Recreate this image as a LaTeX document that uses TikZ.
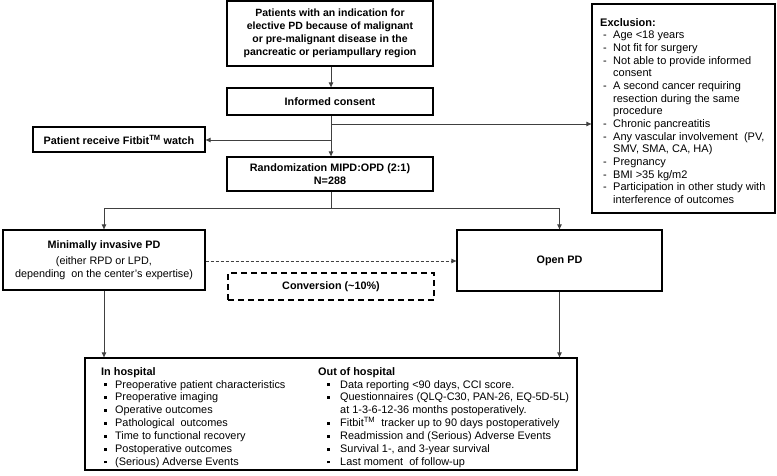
\documentclass[tikz,border=0pt]{standalone}
\usepackage{fontspec}
\setmainfont{Liberation Sans}
\usetikzlibrary{arrows.meta}
\newcommand\sqbul{\hspace*{3pt}\makebox[11pt][l]{\rule[2pt]{2.6pt}{2.6pt}}}
\newcommand\sqbulo{\hspace*{9pt}\makebox[13pt][l]{\rule[2pt]{2.6pt}{2.6pt}}}
\newcommand\exdash{\hspace*{3pt}\makebox[10pt][l]{-}}
\newcommand\exind{\hspace*{13pt}}
\newcommand\blind{\hspace*{22pt}}
\begin{document}
\begin{tikzpicture}[x=1pt,y=-1pt,
  box/.style={draw=black,line width=1.3pt,inner sep=0pt,align=center,font=\fontsize{10.8}{13}\selectfont\bfseries},
  txt/.style={inner sep=0pt,align=left,anchor=north west,font=\fontsize{11}{12.66}\selectfont},
  conn/.style={draw=black!75,line width=0.9pt},
  arr/.style={conn,-{Triangle[length=5pt,width=4.5pt]}},
]
\useasboundingbox (0,0) rectangle (777,476);
% boxes
\node[box,minimum width=206pt,minimum height=65pt,font=\fontsize{10.5}{12.8}\selectfont\bfseries] (top) at (330,33.5)
  {Patients with an indication for\\elective PD because of malignant\\or pre-malignant disease in the\\pancreatic or periampullary region};
\node[box,minimum width=206pt,minimum height=27pt] (consent) at (330,101.5) {Informed consent};
\node[box,minimum width=172pt,minimum height=25pt] (fitbit) at (119,139.5) {Patient receive Fitbit\textsuperscript{TM} watch};
\node[box,minimum width=206pt,minimum height=34pt] (rand) at (330,174) {Randomization MIPD:OPD (2:1)\\N=288};
\node[draw=black,line width=1.3pt,inner sep=0pt,minimum width=183pt,minimum height=209pt] (excl) at (683.5,108.5) {};
\node[txt] (exclt) at (600,18) {\textbf{Exclusion:}\\
\exdash Age <18 years\\
\exdash Not fit for surgery\\
\exdash Not able to provide informed\\
\exind consent\\
\exdash A second cancer requiring\\
\exind resection during the same\\
\exind procedure\\
\exdash Chronic pancreatitis\\
\exdash Any vascular involvement\ \ (PV,\\
\exind SMV, SMA, CA, HA)\\
\exdash Pregnancy\\
\exdash BMI >35 kg/m2\\
\exdash Participation in other study with\\
\exind interference of outcomes};
\node[box,minimum width=202pt,minimum height=60pt] (mi) at (104,260)
  {Minimally invasive PD\\[3pt]
   \mdseries (either RPD or LPD,\\ \mdseries depending\ \ on the center's expertise)};
\node[box,minimum width=205pt,minimum height=61pt] (open) at (559.5,260.5) {Open PD};
\node[box,dashed,dash pattern=on 6pt off 4pt,minimum width=206pt,minimum height=27pt] (conv) at (331,286.5) {Conversion (\textasciitilde10\%)};
\node[draw=black,line width=1.3pt,inner sep=0pt,minimum width=492pt,minimum height=112pt] (res) at (331,414) {};
\node[txt,font=\fontsize{10.9}{12.9}\selectfont] (inh) at (101,367) {\textbf{In hospital}\\
\sqbul Preoperative patient characteristics\\
\sqbul Preoperative imaging\\
\sqbul Operative outcomes\\
\sqbul Pathological\ \ outcomes\\
\sqbul Time to functional recovery\\
\sqbul Postoperative outcomes\\
\sqbul (Serious) Adverse Events};
\node[txt,font=\fontsize{10.9}{12.9}\selectfont] (outh) at (318,367) {\textbf{Out of hospital}\\
\sqbulo Data reporting <90 days, CCI score.\\
\sqbulo Questionnaires (QLQ-C30, PAN-26, EQ-5D-5L)\\
\blind at 1-3-6-12-36 months postoperatively.\\
\sqbulo Fitbit\textsuperscript{TM}\ \ tracker up to 90 days postoperatively\\
\sqbulo Readmission and (Serious) Adverse Events\\
\sqbulo Survival 1-, and 3-year survival\\
\sqbulo Last moment\ \ of follow-up};
% junctions
\coordinate (j1) at (331,124);
\coordinate (j2) at (331,140);
\coordinate (j3) at (331,208);
% connectors
\draw[arr] (top.south -| j1) -- (consent.north -| j1);
\draw[arr] (consent.south -| j1) -- (rand.north -| j1);
\draw[arr] (j1) -- (excl.west |- j1);
\draw[arr] (j2) -- (fitbit.east |- j2);
\draw[conn] (rand.south -| j3) -- (j3);
\draw[arr] (j3) -| (mi.north);
\draw[arr] (j3) -| (open.north);
\draw[arr,dashed,dash pattern=on 3pt off 2pt] (mi.east |- 0,261) -- (open.west |- 0,261);
\draw[arr] (mi.south) -- (mi.south |- res.north);
\draw[arr] (open.south) -- (open.south |- res.north);
\end{tikzpicture}
\end{document}
